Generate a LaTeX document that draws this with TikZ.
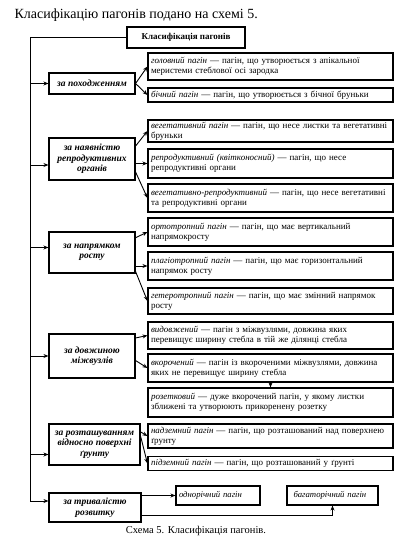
\documentclass[tikz,border=0pt]{standalone}
\usepackage{fontspec}
\setmainfont{Liberation Serif}
\usetikzlibrary{arrows.meta,calc}
\tikzset{
  box/.style={draw, line width=1.1pt, inner sep=0pt},
  child/.style={box, minimum width=245pt, text width=239pt, align=left, font=\fontsize{9}{9.8}\selectfont},
  cat/.style={box, align=center, font=\fontsize{9.5}{10.5}\selectfont\bfseries\itshape},
  leaf/.style={box, font=\fontsize{8.7}{9.5}\selectfont\itshape, align=left, text width=78pt},
  arr/.style={line width=0.9pt, -{Stealth[length=5pt,width=4pt]}},
  ln/.style={line width=0.9pt}
}
\begin{document}
\begin{tikzpicture}[x=1pt,y=-1pt]
\useasboundingbox (0,0) rectangle (407,553);
\node[anchor=west, font=\fontsize{14}{16}\selectfont] (title) at (11,15) {Класифікацію пагонів подано на схемі 5.};
\node[box, minimum width=118pt, minimum height=21pt, font=\fontsize{9}{10}\selectfont\bfseries] (top) at (186,37.5) {Класифікація пагонів};

% categories
\node[cat, minimum width=86pt, minimum height=21pt] (c1) at (92,83.5) {за походженням};
\node[cat, minimum width=86pt, minimum height=42pt] (c2) at (92,159) {за наявністю\\репродуктивних\\органів};
\node[cat, minimum width=86pt, minimum height=41pt] (c3) at (92,252.5) {за напрямком\\росту};
\node[cat, minimum width=86pt, minimum height=44pt] (c4) at (92,356) {за довжиною\\міжвузлів};
\node[cat, minimum width=91pt, minimum height=41pt] (c5) at (94.5,444.5) {за розташуванням\\відносно поверхні\\ґрунту};
\node[cat, minimum width=92pt, minimum height=29pt] (c6) at (95,507.5) {за тривалістю\\розвитку};

% children
\node[child, minimum height=27pt] (a1) at (270.5,66.5) {\textit{головний пагін} — пагін, що утворюється з апікальної\\меристеми стеблової осі зародка};
\node[child, minimum height=14pt] (a2) at (270.5,95) {\textit{бічний пагін} — пагін, що утворюється з бічної бруньки};
\node[child, minimum height=22pt] (b1) at (270.5,131) {\textit{вегетативний пагін} — пагін, що несе листки та вегетативні\\бруньки};
\node[child, minimum height=29pt] (b2) at (270.5,163.5) {\textit{репродуктивний (квітконосний)} — пагін, що несе\\репродуктивні органи};
\node[child, minimum height=28pt] (b3) at (270.5,198) {\textit{вегетативно-репродуктивний} — пагін, що несе вегетативні\\та репродуктивні органи};
\node[child, minimum height=28pt] (d1) at (270.5,232) {\textit{ортотропний пагін} — пагін, що має вертикальний\\напрямокросту};
\node[child, minimum height=28pt] (d2) at (270.5,266) {\textit{плагіотропний пагін} — пагін, що має горизонтальний\\напрямок росту};
\node[child, minimum height=26pt] (d3) at (270.5,301) {\textit{гетеротропний пагін} — пагін, що має змінний напрямок\\росту};
\node[child, minimum height=27pt] (e1) at (270.5,335.5) {\textit{видовжений} — пагін з міжвузлями, довжина яких\\перевищує ширину стебла в тій же ділянці стебла};
\node[child, minimum height=28pt] (e2) at (270.5,368) {\textit{вкорочений} — пагін із вкороченими міжвузлями, довжина\\яких не перевищує ширину стебла};
\node[child, minimum height=29pt] (e3) at (270.5,402.5) {\textit{розетковий} — дуже вкорочений пагін, у якому листки\\зближені та утворюють прикоренену розетку};
\node[child, minimum height=24pt] (f1) at (270.5,436) {\textit{надземний пагін} — пагін, що розташований над поверхнею\\ґрунту};
\node[child, minimum height=14pt] (f2) at (270.5,463.5) {\textit{підземний пагін} — пагін, що розташований у ґрунті};
\node[leaf, minimum width=84pt, minimum height=19pt] (g1) at (218,495.5) {однорічний пагін};
\node[leaf, minimum width=91pt, minimum height=19pt] (g2) at (332.5,495.5) {багаторічний пагін};

\node[font=\fontsize{10.5}{12}\selectfont] (cap) at (196,531) {Схема 5. Класифікація пагонів.};

% trunk
\coordinate (tb) at (30,501);
\draw[ln] (top.west) -| (tb);
\draw[arr] (c1.west -| tb) -- (c1.west);
\draw[arr] ([yshift=-6pt]c2.west -| tb) -- ([yshift=-6pt]c2.west);
\draw[arr] ([yshift=5pt]c3.west -| tb) -- ([yshift=5pt]c3.west);
\draw[arr] (c4.west -| tb) -- (c4.west);
\draw[arr] ([yshift=-10pt]c5.west -| tb) -- ([yshift=-10pt]c5.west);
\draw[arr] (tb) -- (tb -| c6.west);

% fans
\draw[arr] (c1.east) -- (a1.west);
\draw[arr] (c1.east) -- (a2.west);
\draw[arr] ($(c2.north east)!0.2!(c2.south east)$) -- (b1.west);
\draw[arr] (c2.east |- b2.west) -- (b2.west);
\draw[arr] ($(c2.north east)!0.8!(c2.south east)$) -- (b3.west);
\draw[arr] ($(c3.north east)!0.15!(c3.south east)$) -- (d1.west);
\draw[arr] (c3.east |- d2.west) -- (d2.west);
\draw[arr] ($(c3.north east)!0.95!(c3.south east)$) -- (d3.west);
\draw[arr] ($(c4.north east)!0.1!(c4.south east)$) -- (e1.west);
\draw[arr] ($(c4.north east)!0.6!(c4.south east)$) -- (e2.west);
\draw[arr] (e2.south) -- (e3.north);
\draw[arr] ($(c5.north east)!0.2!(c5.south east)$) -- (f1.west);
\draw[arr] ($(c5.north east)!0.3!(c5.south east)$) -- (f2.west);
\draw[arr] (c6.east |- g1.west) -- (g1.west);
\draw[arr] ($(c6.north east)!0.75!(c6.south east)$) -| (g2.south);
\end{tikzpicture}
\end{document}
